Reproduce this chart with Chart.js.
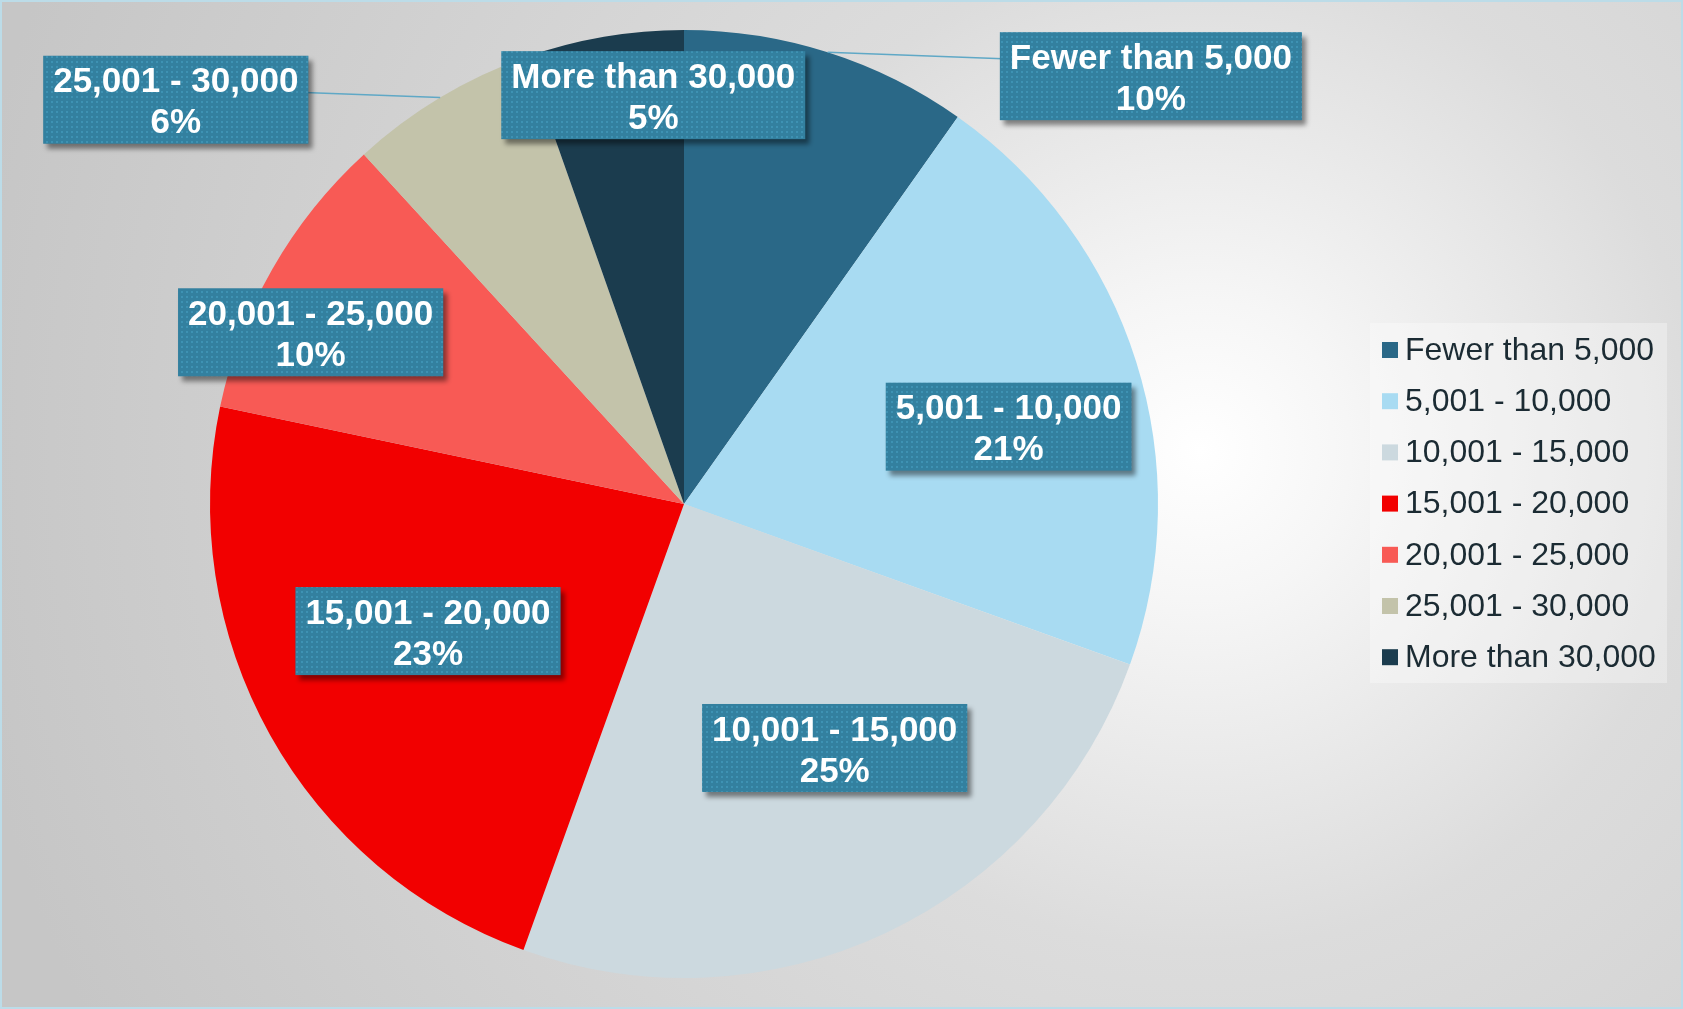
<!DOCTYPE html>
<html>
<head>
<meta charset="utf-8">
<script src="https://cdn.jsdelivr.net/npm/chart.js@4.4.0/dist/chart.umd.min.js"></script>
<style>
  html, body { margin: 0; padding: 0; background: #fff; }
  #wrap { width: 1683px; height: 1009px; }
</style>
</head>
<body>
<div id="wrap"><canvas id="pieChart" width="1683" height="1009"></canvas></div>
<script>
// data
const categories = [
  "Fewer than 5,000",
  "5,001 - 10,000",
  "10,001 - 15,000",
  "15,001 - 20,000",
  "20,001 - 25,000",
  "25,001 - 30,000",
  "More than 30,000",
];
const shares = [9.8, 20.7, 25.0, 22.8, 9.9, 6.4, 5.4];
const sliceColors = ["#2A6887", "#A8DBF2", "#CCD9DF", "#F20000", "#F85A55", "#C3C3AA", "#1B3C4E"];

// where each data label box sits: angle from top (deg), distance as part of radius, leader line
const labelSpots = [
  [47.5, 1.336, true],
  [76.6, 0.704, false],
  [148.3, 0.605, false],
  [243.6, 0.603, false],
  [294.7, 0.867, false],
  [308.5, 1.37, true],
  [355.7, 0.865, false],
];

// dotted fill for the label boxes
const dotCanvas = document.createElement("canvas");
dotCanvas.width = 5;
dotCanvas.height = 5;
const dctx = dotCanvas.getContext("2d");
dctx.fillStyle = "#33809F";
dctx.fillRect(0, 0, 5, 5);
dctx.fillStyle = "#3E92B3";
dctx.fillRect(1, 1, 2, 2);

// background + frame
const backdrop = {
  id: "backdrop",
  beforeDraw(chart) {
    const c = chart.ctx;
    const w = chart.width, h = chart.height;
    const g = c.createRadialGradient(1200, 450, 0, 1200, 450, 1250);
    g.addColorStop(0, "#FFFFFF");
    g.addColorStop(0.12, "#F6F6F6");
    g.addColorStop(0.4, "#DCDCDC");
    g.addColorStop(1, "#C6C6C6");
    c.save();
    c.fillStyle = g;
    c.fillRect(0, 0, w, h);
    c.restore();
  },
  afterDraw(chart) {
    const c = chart.ctx;
    c.save();
    c.strokeStyle = "#BCDCE8";
    c.lineWidth = 2;
    c.strokeRect(1, 1, chart.width - 2, chart.height - 2);
    c.restore();
  },
};

// data label boxes drawn from the arcs
const boxLabels = {
  id: "boxLabels",
  afterDatasetsDraw(chart) {
    const c = chart.ctx;
    const meta = chart.getDatasetMeta(0);
    const vals = chart.data.datasets[0].data;
    const total = vals.reduce((a, b) => a + b, 0);
    const pattern = c.createPattern(dotCanvas, "repeat");
    c.save();
    c.font = "bold 35px 'Liberation Sans', Arial, sans-serif";
    c.textAlign = "center";
    c.textBaseline = "middle";
    meta.data.forEach((arc, i) => {
      const p = arc.getProps(["x", "y", "outerRadius", "startAngle", "endAngle"], true);
      const spot = labelSpots[i];
      const a = (spot[0] * Math.PI) / 180;
      const cx = p.x + spot[1] * p.outerRadius * Math.sin(a);
      const cy = p.y - spot[1] * p.outerRadius * Math.cos(a);
      const line1 = chart.data.labels[i];
      const line2 = Math.round((vals[i] / total) * 100) + "%";
      const tw = Math.max(c.measureText(line1).width, c.measureText(line2).width);
      const bw = tw + 20, bh = 88;

      if (spot[2]) {
        const mid = (p.startAngle + p.endAngle) / 2;
        const ex = p.x + p.outerRadius * Math.cos(mid);
        const ey = p.y + p.outerRadius * Math.sin(mid);
        c.strokeStyle = "#5FA8C6";
        c.lineWidth = 1.5;
        c.beginPath();
        c.moveTo(ex, ey);
        c.lineTo(cx, cy - 12);
        c.stroke();
      }

      c.save();
      c.shadowColor = "rgba(0,0,0,0.45)";
      c.shadowOffsetX = 4;
      c.shadowOffsetY = 5;
      c.shadowBlur = 5;
      c.fillStyle = pattern;
      c.fillRect(cx - bw / 2, cy - bh / 2, bw, bh);
      c.restore();

      c.fillStyle = "#FFFFFF";
      c.fillText(line1, cx, cy - 17);
      c.fillText(line2, cx, cy + 24);
    });
    c.restore();
  },
};

// legend at the right
const sideLegend = {
  id: "sideLegend",
  afterDraw(chart) {
    const c = chart.ctx;
    const ds = chart.data.datasets[0];
    c.save();
    c.fillStyle = "rgba(255,255,255,0.32)";
    c.fillRect(1370, 323, 297, 360);
    c.font = "32px 'Liberation Sans', Arial, sans-serif";
    c.textBaseline = "middle";
    c.textAlign = "left";
    chart.data.labels.forEach((lab, i) => {
      const y = 350 + i * 51.2;
      c.fillStyle = ds.backgroundColor[i];
      c.fillRect(1382, y - 8, 16, 16);
      c.fillStyle = "#1B2B33";
      c.fillText(lab, 1405, y + 1);
    });
    c.restore();
  },
};

const config = {
  type: "pie",
  data: {
    labels: categories,
    datasets: [
      {
        data: shares,
        backgroundColor: sliceColors,
        borderWidth: 0,
      },
    ],
  },
  options: {
    responsive: false,
    animation: false,
    layout: {
      padding: { left: 210, top: 30, right: 525, bottom: 31 },
    },
    plugins: {
      legend: { display: false },
      tooltip: { enabled: false },
    },
  },
  plugins: [backdrop, boxLabels, sideLegend],
};

const pieChart = new Chart(document.getElementById("pieChart"), config);
</script>
</body>
</html>
